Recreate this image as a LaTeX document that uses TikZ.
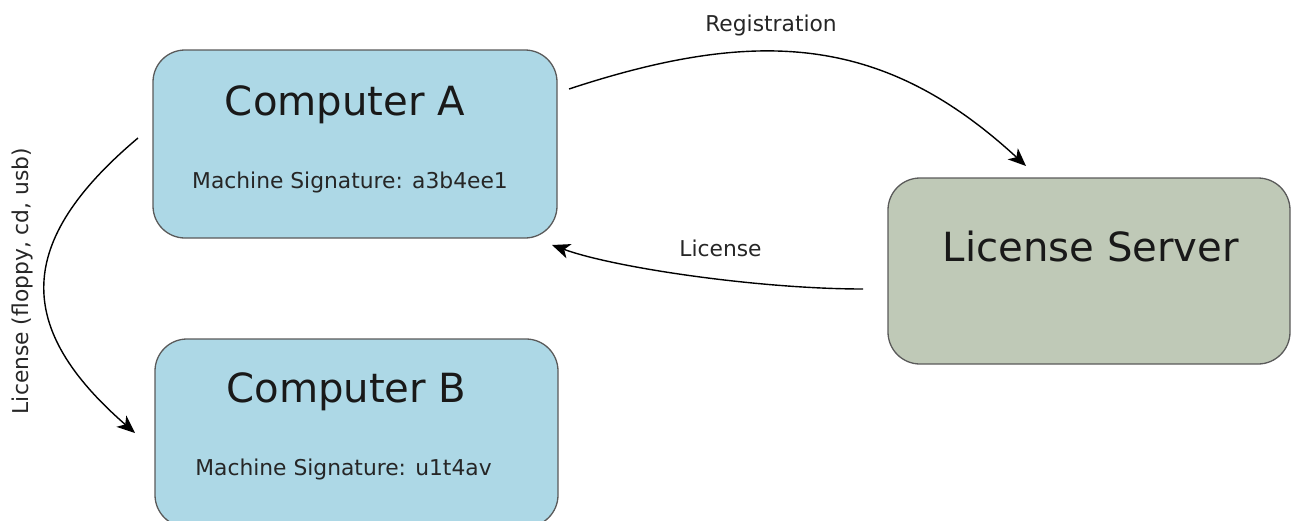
\documentclass[tikz,border=0pt]{standalone}
\usepackage{fontspec}
\setmainfont{DejaVu Sans}
\usetikzlibrary{arrows.meta,calc}
\definecolor{boxblue}{HTML}{ADD8E6}
\definecolor{boxgreen}{HTML}{BFC9B7}
\definecolor{boxline}{HTML}{5A5A5A}
\tikzset{
  box/.style={draw=boxline, line width=1.3pt, rounded corners=32pt, inner sep=0pt, outer sep=0pt},
  bigtxt/.style={anchor=base, inner sep=0pt, font=\fontsize{40.2}{48}\selectfont, text=black!90},
  smalltxt/.style={anchor=base, inner sep=0pt, font=\fontsize{21.8}{26}\selectfont, text=black!85},
  conn/.style={draw=black, line width=1.4pt, -{Stealth[length=18pt,width=15pt,inset=5pt]}}
}
\begin{document}
\begin{tikzpicture}[x=1pt,y=-1pt]
\useasboundingbox (0,0) rectangle (1291,520);
\clip (0,0) rectangle (1291,520);
% boxes
\node[box, fill=boxblue, minimum width=404pt, minimum height=188pt] (compA) at (355,144) {};
\node[box, fill=boxblue, minimum width=403pt, minimum height=188pt] (compB) at (356.5,433) {};
\node[box, fill=boxgreen, minimum width=402pt, minimum height=186pt] (server) at (1089,271) {};
% texts
\node[bigtxt] (tA) at (345,115.5) {Computer A};
\node[smalltxt] (sA) at (350,188) {Machine Signature: a3b4ee1};
\node[bigtxt] (tB) at (346.5,402.5) {Computer B};
\node[smalltxt] (sB) at (343.5,475.5) {Machine Signature: u1t4av};
\node[bigtxt] (tS) at (1091,261.5) {License Server};
% connectors
\draw[conn] ([shift={(12,-55)}]compA.east) .. controls (760,26) and (885,36) .. ([shift={(-63,-12)}]server.north);
\node[smalltxt] (reg) at (771,31.5) {Registration};
\draw[conn] ([shift={(-25,18)}]server.west) .. controls (760,289) and (615,268) .. ([shift={(-5,7)}]compA.south east);
\node[smalltxt] (lic) at (720.5,256.5) {License};
\draw[conn] ([shift={(-15,-6)}]compA.west) .. controls (14.5,242) and (14.5,328) .. ([shift={(-20,0)}]compB.west);
\node[smalltxt, rotate=90] (licm) at (28,281) {License (floppy, cd, usb)};
\end{tikzpicture}
\end{document}
